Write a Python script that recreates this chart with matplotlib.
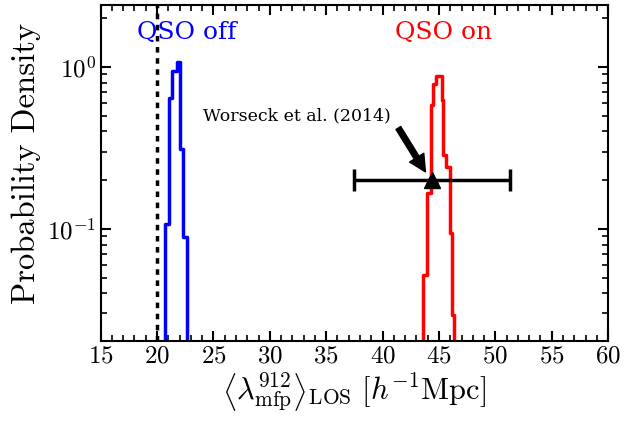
import matplotlib
matplotlib.use("Agg")
import matplotlib.pyplot as plt
import numpy as np
from matplotlib.ticker import MultipleLocator, LogLocator

plt.rcParams['font.family'] = ['cmr10', 'DejaVu Serif']
plt.rcParams['mathtext.fontset'] = 'cm'
plt.rcParams['axes.formatter.use_mathtext'] = True

# QSO off histogram (bin edges and densities)
off_edges = [20.71, 21.06, 21.35, 21.74, 22.04, 22.33, 22.68]
off_density = [0.107, 0.64, 0.95, 1.07, 0.31, 0.089]

# QSO on histogram
on_edges = [43.62, 43.93, 44.30, 44.45, 44.75, 45.26, 45.40, 45.61, 45.97, 46.14, 46.35]
on_density = [0.052, 0.167, 0.58, 0.79, 0.88, 0.625, 0.286, 0.241, 0.094, 0.0295]

# Worseck et al. (2014) measurement
w_x = 44.4
w_y = 0.2
w_err = 6.9

x_off_line = 20.0
xticks = [15, 20, 25, 30, 35, 40, 45, 50, 55, 60]

fig = plt.figure(figsize=(6.25, 4.22), dpi=100)
ax = fig.add_axes([0.161, 0.193, 0.812, 0.794])

def stairs(edges, vals, color):
    e = np.asarray(edges)
    v = np.asarray(vals)
    xs = np.repeat(e, 2)
    ys = np.concatenate([[1e-5], np.repeat(v, 2), [1e-5]])
    ax.plot(xs, ys, color=color, lw=2.5)

stairs(off_edges, off_density, 'blue')
stairs(on_edges, on_density, 'red')

ax.axvline(x_off_line, color='black', lw=2.5, dashes=(1.6, 1.6))

ax.errorbar([w_x], [w_y], xerr=[w_err], fmt='^', color='black', ms=11,
            lw=2.5, capsize=8, capthick=2.5, zorder=5)

ax.text(24.1, 0.5, 'Worseck et al. (2014)', fontsize=12.5, ha='left', va='center',
        family='DejaVu Serif')
ax.annotate('', xy=(43.8, 0.225), xytext=(41.4, 0.42),
            arrowprops=dict(facecolor='black', edgecolor='black', width=4,
                            headwidth=12, headlength=12, shrink=0.0))

ax.text(18.2, 1.64, 'QSO off', color='blue', fontsize=18, ha='left', va='center',
        family='DejaVu Serif')
ax.text(41.1, 1.64, 'QSO on', color='red', fontsize=18, ha='left', va='center',
        family='DejaVu Serif')

ax.set_yscale('log')
ax.set_xlim(15, 60)
ax.set_ylim(0.0204, 2.4)
ax.set_xticks(xticks)
ax.xaxis.set_minor_locator(MultipleLocator(1))
ax.yaxis.set_minor_locator(LogLocator(base=10, subs=np.arange(2, 10)))
ax.tick_params(which='both', direction='in', top=True, right=True, labelsize=18)
ax.tick_params(which='major', length=7, width=1.5)
ax.tick_params(which='minor', length=4, width=1.2)
for s in ax.spines.values():
    s.set_linewidth(1.5)

ax.set_xlabel(r'$\left\langle\lambda_{\rm mfp}^{912}\right\rangle_{\rm LOS}\ [h^{-1}{\rm Mpc}]$',
              fontsize=22, labelpad=2)
ax.set_ylabel('Probability Density', fontsize=23.5)
ax.yaxis.set_label_coords(-0.118, 0.53)

fig.savefig('out.png', dpi=100)
